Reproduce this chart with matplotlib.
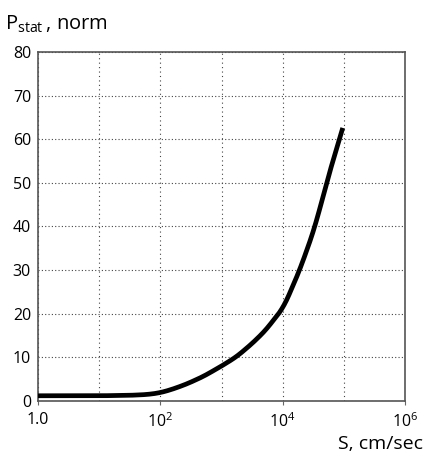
import numpy as np
import matplotlib.pyplot as plt

# curve
speed = [1, 10, 32, 63, 100, 158, 270, 500, 1000, 1780, 3300, 5500, 7950, 10000, 11700, 19000, 34000, 52000, 96000]
p_stat = [1.2, 1.2, 1.3, 1.5, 1.9, 2.7, 3.9, 5.6, 8.0, 10.2, 13.4, 16.5, 19.5, 21.0, 23.2, 30.0, 40.0, 50.0, 62.6]
y_ticks = [0, 10, 20, 30, 40, 50, 60, 70, 80]
x_ticks = [1, 1e2, 1e4, 1e6]
x_labels = ["1.0", "$10^2$", "$10^4$", "$10^6$"]

plt.rcParams["font.family"] = ["Open Sans", "DejaVu Sans"]
plt.rcParams["mathtext.fontset"] = "custom"
plt.rcParams["mathtext.rm"] = "Open Sans"

fig = plt.figure(figsize=(4.25, 4.55), dpi=100)
ax = fig.add_axes([38 / 425, 1 - 401 / 455, 367 / 425, 349 / 455])

# smooth the read points a little in log-x space
lx = np.log10(speed)
xs = np.linspace(lx[0], lx[-1], 500)
ys = np.interp(xs, lx, p_stat)
k = 10
pad = np.pad(ys, k, mode="reflect", reflect_type="odd")
ys_s = np.convolve(pad, np.ones(2 * k + 1) / (2 * k + 1), mode="same")[k:-k]
ax.plot(10 ** xs, ys_s, color="black", lw=3.4, solid_capstyle="butt", zorder=3)

ax.set_xscale("log")
ax.set_xlim(1, 1e6)
ax.set_ylim(0, 80)
ax.set_yticks(y_ticks)
ax.set_xticks(x_ticks)
ax.set_xticklabels(x_labels)
ax.xaxis.set_minor_locator(plt.FixedLocator([1e1, 1e3, 1e5]))
ax.xaxis.set_minor_formatter(plt.NullFormatter())
ax.grid(True, which="both", axis="x", linestyle=(0, (1, 3)), color="#444444", lw=0.8)
ax.grid(True, axis="y", linestyle=(0, (1, 2)), color="#444444", lw=0.8)
ax.tick_params(axis="y", length=0, labelsize=11.5, pad=5)
ax.tick_params(axis="x", which="major", length=3, labelsize=11.5, pad=5, color="#666666")
ax.tick_params(axis="x", which="minor", length=0)
for s in ax.spines.values():
    s.set_color("#555555")
    s.set_linewidth(1.2)

fig.text(5 / 425, 1 - 24 / 455, r"P$_{\rm stat}\,$, norm", fontsize=14.5, va="center", ha="left")
fig.text(423 / 425, 1 - 444 / 455, "S, cm/sec", fontsize=14, va="center", ha="right")

plt.savefig("out.png", dpi=100)
